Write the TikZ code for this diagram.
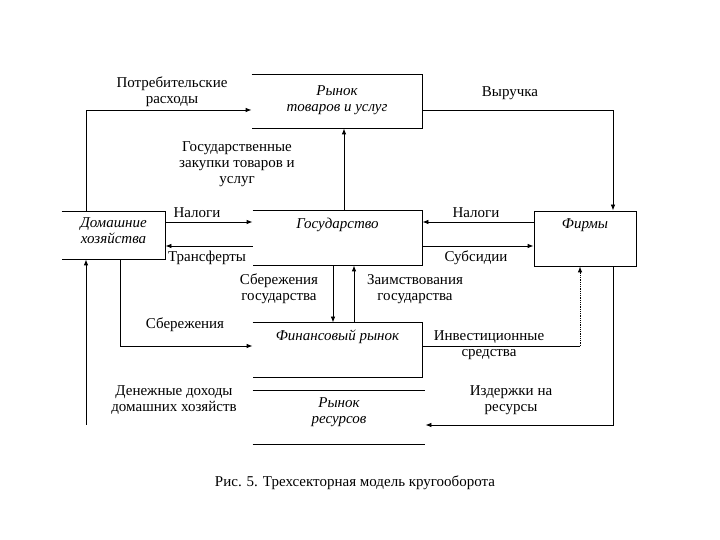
\documentclass[tikz,border=0pt]{standalone}
\usepackage{fontspec}
\setmainfont{Liberation Serif}
\usetikzlibrary{arrows.meta}
\begin{document}
\begin{tikzpicture}[x=1pt, y=1pt, line width=0.8pt,
	box/.style={inner sep=0pt, minimum width=#1},
	boxtext/.style={font=\fontsize{15}{16}\selectfont\itshape, align=center, inner sep=0pt},
	lbl/.style={font=\fontsize{15}{16}\selectfont, align=center, inner sep=0pt},
	arr/.style={draw, -{Latex[length=6pt, width=4.5pt]}}]
	\useasboundingbox (0,0) rectangle (720,540);
	\node[box=170pt, minimum height=53pt] (market) at (337,438.5) {};
	\node[box=103pt, minimum height=47pt] (hh) at (113.5,304.5) {};
	\node[box=169pt, minimum height=54pt] (gov) at (337.5,302) {};
	\node[box=102pt, minimum height=55pt, draw] (firms) at (585,301.5) {};
	\node[box=169pt, minimum height=54pt] (fin) at (337.5,190) {};
	\node[box=172pt, minimum height=53pt] (res) at (339,122.5) {};
	\path[draw] (market.north west) -- (market.north east) -- (market.south east) -- (market.south west);
	\path[draw] (hh.north west) -- (hh.north east) -- (hh.south east) -- (hh.south west);
	\path[draw] (gov.north west) -- (gov.north east) -- (gov.south east) -- (gov.south west);
	\path[draw] (fin.north west) -- (fin.north east) -- (fin.south east) -- (fin.south west);
	\path[draw] (res.north west) -- (res.north east) (res.south west) -- (res.south east);
	\node[boxtext] (market-t) at ([yshift=1pt]market.center) {Рынок\\товаров и услуг};
	\node[boxtext] (hh-t) at ([yshift=4.5pt]hh.center) {Домашние\\хозяйства};
	\node[boxtext] (gov-t) at ([yshift=13pt]gov.center) {Государство};
	\node[boxtext] (firms-t) at ([yshift=13.5pt]firms.center) {Фирмы};
	\node[boxtext] (fin-t) at ([yshift=13pt]fin.center) {Финансовый рынок};
	\node[boxtext] (res-t) at ([yshift=5.5pt]res.center) {Рынок\\ресурсов};
	\coordinate (hh-tax) at ([yshift=13.5pt]hh.east);
	\coordinate (hh-tr) at ([yshift=-10.5pt]hh.east);
	\coordinate (firms-tax) at ([yshift=16.5pt]firms.west);
	\coordinate (firms-sub) at ([yshift=-7.5pt]firms.west);
	\coordinate (inv-in) at ([yshift=4pt]fin.east);
	\coordinate (inv-up) at ([xshift=-5pt]firms.south |- inv-in);
	\coordinate (inc) at (86,115);
	\path[arr] ([xshift=-27.5pt]hh.north) |- ([yshift=-8.5pt]market.west);
	\path[arr] ([yshift=-8.5pt]market.east) -| ([xshift=28pt]firms.north);
	\path[arr] ([xshift=6.5pt]gov.north) -- ([xshift=7pt]market.south);
	\path[arr] (hh-tax) -- (hh-tax -| gov.west);
	\path[arr] (hh-tr -| gov.west) -- (hh-tr);
	\path[arr] (firms-tax) -- (firms-tax -| gov.east);
	\path[arr] (firms-sub -| gov.east) -- (firms-sub);
	\path[arr] ([xshift=-4.5pt]gov.south) -- ([xshift=-4.5pt]fin.north);
	\path[arr] ([xshift=16.5pt]fin.north) -- ([xshift=16.5pt]gov.south);
	\path[arr] ([xshift=6.5pt]hh.south) |- ([yshift=4pt]fin.west);
	\path[draw] (inv-in) -- (inv-up);
	\path[arr, densely dotted] (inv-up) -- ([xshift=-5pt]firms.south);
	\path[arr] ([xshift=28pt]firms.south) |- ([yshift=-7.5pt]res.east);
	\path[arr] (inc) -- (inc |- hh.south);
	\node[lbl] (l-cons) at (172,448) {Потребительские\\расходы};
	\node[lbl] (l-rev) at (510,447) {Выручка};
	\node[lbl] (l-pur) at (237,376) {Государственные\\закупки товаров и\\услуг};
	\node[lbl] (l-tax1) at (197,327) {Налоги};
	\node[lbl] (l-tr) at (207,282) {Трансферты};
	\node[lbl] (l-tax2) at (476,327) {Налоги};
	\node[lbl] (l-sub) at (476,282) {Субсидии};
	\node[lbl] (l-gsav) at (279,251) {Сбережения\\государства};
	\node[lbl] (l-bor) at (415,251) {Заимствования\\государства};
	\node[lbl] (l-sav) at (185,215) {Сбережения};
	\node[lbl] (l-inv) at (489,195) {Инвестиционные\\средства};
	\node[lbl] (l-inc) at (174,140) {Денежные доходы\\домашних хозяйств};
	\node[lbl] (l-cost) at (511,140) {Издержки на\\ресурсы};
	\node[lbl] (cap) at (355,57) {Рис. 5. Трехсекторная модель кругооборота};
\end{tikzpicture}
\end{document}
